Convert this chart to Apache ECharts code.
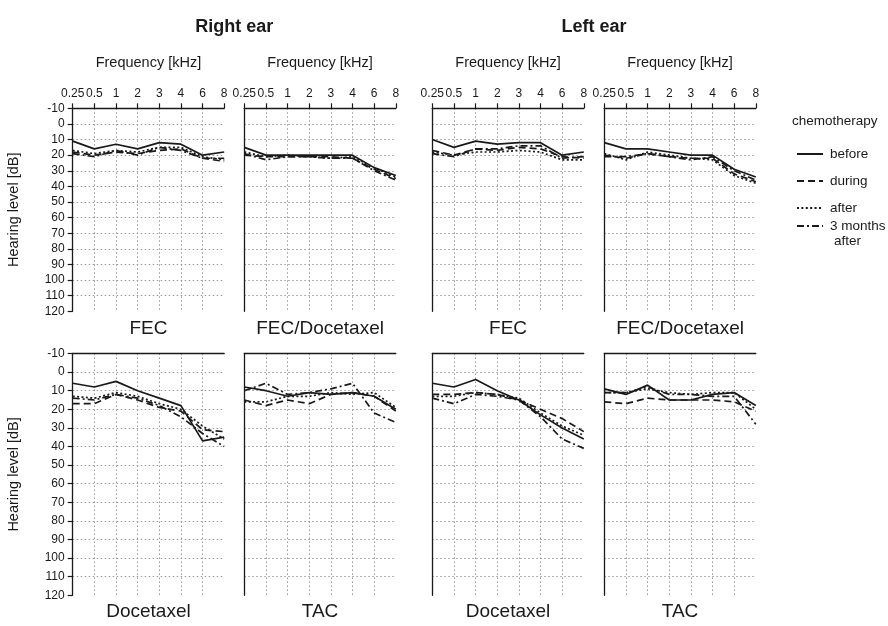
<!DOCTYPE html>
<html>
<head>
<meta charset="utf-8">
<script src="https://cdn.jsdelivr.net/npm/echarts@6/dist/echarts.min.js"></script>
<style>
html,body{margin:0;padding:0;background:#fff;}
#chart{width:888px;height:626px;}
</style>
</head>
<body>
<div id="chart"></div>
<script>
// ---- data ----
const freqs = ['0.25', '0.5', '1', '2', '3', '4', '6', '8'];
const seriesNames = ['before', 'during', 'after', '3 months after'];
const panelTitles = ['FEC', 'FEC/Docetaxel', 'FEC', 'FEC/Docetaxel', 'Docetaxel', 'TAC', 'Docetaxel', 'TAC'];
const earTitles = ['Right ear', 'Left ear'];
const levelMin = -10, levelMax = 120, levelStep = 10;

// Right ear, FEC
const rFEC_before = [11, 16, 13, 16, 12, 13, 20, 18];
const rFEC_during = [18, 20, 18, 19, 17, 16, 22, 24];
const rFEC_after  = [17, 19, 17, 18, 15, 15, 21, 23];
const rFEC_3mo    = [19, 21, 17, 20, 15, 17, 22, 22];
// Right ear, FEC/Docetaxel
const rFD_before = [15, 20, 20, 20, 20, 20, 28, 33];
const rFD_during = [20, 21, 21, 21, 21, 22, 29, 35];
const rFD_after  = [18, 21, 20, 21, 22, 21, 28, 34];
const rFD_3mo    = [19, 23, 21, 21, 22, 22, 30, 36];
// Left ear, FEC
const lFEC_before = [10, 15, 11, 13, 12, 12, 20, 18];
const lFEC_during = [17, 20, 16, 17, 15, 16, 21, 22];
const lFEC_after  = [18, 20, 18, 18, 17, 18, 23, 23];
const lFEC_3mo    = [19, 21, 16, 16, 14, 14, 22, 21];
// Left ear, FEC/Docetaxel
const lFD_before = [12, 16, 16, 18, 20, 20, 29, 34];
const lFD_during = [20, 22, 19, 21, 22, 22, 32, 37];
const lFD_after  = [19, 23, 18, 20, 22, 23, 33, 38];
const lFD_3mo    = [21, 21, 19, 21, 23, 21, 30, 36];
// Right ear, Docetaxel
const rDoc_before = [6, 8, 5, 10, 14, 18, 37, 35];
const rDoc_during = [17, 17, 12, 15, 19, 21, 31, 32];
const rDoc_after  = [13, 14, 11, 13, 17, 20, 29, 36];
const rDoc_3mo    = [14, 15, 12, 14, 18, 24, 33, 40];
// Right ear, TAC
const rTAC_before = [8, 10, 13, 11, 12, 11, 13, 20];
const rTAC_during = [15, 18, 15, 17, 12, 11, 13, 21];
const rTAC_after  = [16, 16, 13, 13, 11, 12, 11, 19];
const rTAC_3mo    = [10, 6, 12, 11, 9, 6, 22, 27];
// Left ear, Docetaxel
const lDoc_before = [6, 8, 4, 10, 15, 23, 30, 36];
const lDoc_during = [12, 12, 11, 12, 15, 20, 25, 32];
const lDoc_after  = [13, 13, 11, 12, 14, 22, 29, 34];
const lDoc_3mo    = [14, 17, 12, 13, 15, 24, 36, 41];
// Left ear, TAC
const lTAC_before = [9, 12, 7, 15, 15, 12, 11, 18];
const lTAC_during = [16, 17, 14, 15, 15, 15, 16, 21];
const lTAC_after  = [11, 11, 9, 11, 12, 11, 11, 20];
const lTAC_3mo    = [11, 11, 8, 12, 12, 13, 13, 28];

const panelData = [
  [rFEC_before, rFEC_during, rFEC_after, rFEC_3mo],
  [rFD_before, rFD_during, rFD_after, rFD_3mo],
  [lFEC_before, lFEC_during, lFEC_after, lFEC_3mo],
  [lFD_before, lFD_during, lFD_after, lFD_3mo],
  [rDoc_before, rDoc_during, rDoc_after, rDoc_3mo],
  [rTAC_before, rTAC_during, rTAC_after, rTAC_3mo],
  [lDoc_before, lDoc_during, lDoc_after, lDoc_3mo],
  [lTAC_before, lTAC_during, lTAC_after, lTAC_3mo]
];

// ---- layout / style ----
const FONT = '"Liberation Sans", Arial, Helvetica, sans-serif';
const INK = '#1a1a1a';
const GRIDC = '#999999';
const colLefts = [72.7, 244.3, 432.3, 604.3];
const panelW = 151.5;
const rows = [{ top: 108.3, height: 203 }, { top: 353.5, height: 241.8 }];
const dashTypes = ['solid', [7, 4], [2, 2.4], [7, 3, 2, 3]];

const grids = [], xAxes = [], yAxes = [], series = [], graphics = [];

for (let p = 0; p < 8; p++) {
  const row = p < 4 ? 0 : 1;
  const col = p % 4;
  const isTop = row === 0;
  const isFirst = col === 0;
  grids.push({
    left: colLefts[col], top: rows[row].top, width: panelW, height: rows[row].height,
    containLabel: false, outerBoundsMode: 'none'
  });
  xAxes.push({
    gridIndex: p, type: 'category', data: freqs, boundaryGap: false, position: 'top',
    axisLine: { show: true, onZero: false, lineStyle: { color: INK, width: 1.3 } },
    axisTick: { show: isTop, length: 5, inside: false, lineStyle: { color: INK, width: 1.2 } },
    axisLabel: { show: isTop, interval: 0, margin: 9, fontSize: 12, color: INK, fontFamily: FONT },
    splitLine: { show: true, showMinLine: false, showMaxLine: false, interval: 0,
      lineStyle: { color: GRIDC, width: 1, type: [1.5, 2.5] } },
    name: isTop ? 'Frequency [kHz]' : '', nameLocation: 'middle', nameGap: 38,
    nameTextStyle: { fontSize: 14.5, color: INK, fontFamily: FONT }
  });
  yAxes.push({
    gridIndex: p, type: 'value', min: levelMin, max: levelMax, interval: levelStep, inverse: true,
    axisLine: { show: true, onZero: false, lineStyle: { color: INK, width: 1.3 } },
    axisTick: { show: isFirst, length: 5, lineStyle: { color: INK, width: 1.2 } },
    axisLabel: { show: isFirst, margin: 8, fontSize: 12, color: INK, fontFamily: FONT },
    splitLine: { show: true, showMinLine: false, showMaxLine: false,
      lineStyle: { color: GRIDC, width: 1, type: [1.5, 2.5] } },
    name: isFirst ? 'Hearing level [dB]' : '', nameLocation: 'middle', nameGap: 51, nameRotate: 90,
    nameTextStyle: { fontSize: 14.5, color: INK, fontFamily: FONT }
  });
  for (let s = 0; s < 4; s++) {
    series.push({
      name: seriesNames[s], type: 'line', xAxisIndex: p, yAxisIndex: p,
      data: panelData[p][s], symbol: 'none', showSymbol: false, silent: true,
      lineStyle: { color: INK, width: 1.7, type: dashTypes[s] },
      itemStyle: { color: INK }
    });
  }
  graphics.push({
    type: 'text', x: colLefts[col] + panelW / 2, y: isTop ? 329 : 612,
    style: { text: panelTitles[p], fill: INK, font: '19px ' + FONT,
      textAlign: 'center', textVerticalAlign: 'middle' }
  });
}

graphics.push({
  type: 'text', x: (colLefts[0] + colLefts[1] + panelW) / 2, y: 27,
  style: { text: earTitles[0], fill: INK, font: 'bold 18px ' + FONT, textAlign: 'center', textVerticalAlign: 'middle' }
});
graphics.push({
  type: 'text', x: (colLefts[2] + colLefts[3] + panelW) / 2, y: 27,
  style: { text: earTitles[1], fill: INK, font: 'bold 18px ' + FONT, textAlign: 'center', textVerticalAlign: 'middle' }
});
graphics.push({
  type: 'text', x: 792, y: 121,
  style: { text: 'chemotherapy', fill: INK, font: '13.5px ' + FONT, textAlign: 'left', textVerticalAlign: 'middle' }
});
graphics.push({
  type: 'text', x: 834, y: 241,
  style: { text: 'after', fill: INK, font: '13.5px ' + FONT, textAlign: 'left', textVerticalAlign: 'middle' }
});

const legendCommon = {
  orient: 'vertical', left: 791, itemWidth: 26, itemHeight: 14, itemGap: 13,
  selectedMode: false,
  itemStyle: { opacity: 0 },
  textStyle: { fontSize: 13.5, color: INK, fontFamily: FONT, padding: [0, 0, 0, 2] }
};

const option = {
  animation: false,
  backgroundColor: '#fff',
  grid: grids,
  xAxis: xAxes,
  yAxis: yAxes,
  series: series,
  legend: [
    Object.assign({}, legendCommon, { top: 142, data: seriesNames.slice(0, 3) }),
    Object.assign({}, legendCommon, { top: 214, data: [seriesNames[3]],
      formatter: function () { return '3 months'; } })
  ],
  graphic: graphics
};

const chart = echarts.init(document.getElementById('chart'), null, { renderer: 'canvas' });
chart.setOption(option);
</script>
</body>
</html>
